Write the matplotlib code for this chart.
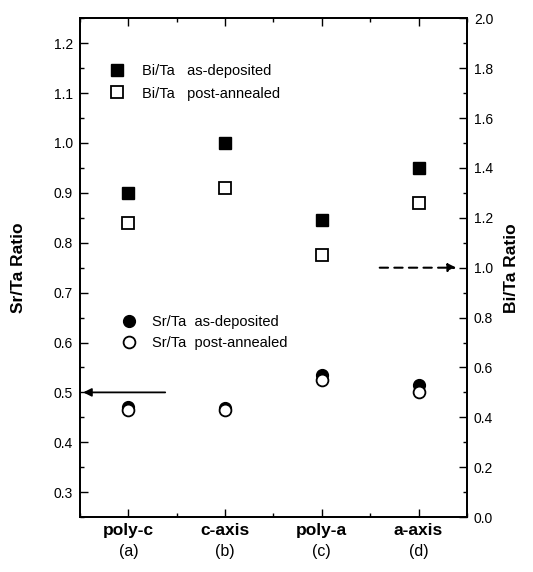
import matplotlib.pyplot as plt
from matplotlib.ticker import MultipleLocator, FormatStrFormatter

plt.rcParams['font.family'] = ['Liberation Sans', 'DejaVu Sans']

# data
samples = ['poly-c', 'c-axis', 'poly-a', 'a-axis']
sub_labels = ['(a)', '(b)', '(c)', '(d)']
x = [1, 2, 3, 4]

bi_ta_dep = [1.30, 1.50, 1.19, 1.40]
bi_ta_ann = [1.18, 1.32, 1.05, 1.26]
sr_ta_dep = [0.470, 0.468, 0.535, 0.515]
sr_ta_ann = [0.465, 0.465, 0.525, 0.500]

fig = plt.figure(figsize=(5.33, 5.72), dpi=100)
ax = fig.add_axes([0.150, 0.096, 0.726, 0.872])
ax2 = ax.twinx()

# Sr/Ta on left axis
l3, = ax.plot(x, sr_ta_dep, 'o', color='black', ms=8.5, ls='none')
l4, = ax.plot(x, sr_ta_ann, 'o', mfc='white', mec='black', mew=1.3, ms=8.5, ls='none')

# Bi/Ta on right axis
l1, = ax2.plot(x, bi_ta_dep, 's', color='black', ms=9, ls='none')
l2, = ax2.plot(x, bi_ta_ann, 's', mfc='white', mec='black', mew=1.3, ms=9, ls='none')

ax.set_xlim(0.5, 4.5)
ax.set_ylim(0.25, 1.25)
ax2.set_ylim(0.0, 2.0)

ax.yaxis.set_major_locator(MultipleLocator(0.1))
ax.yaxis.set_minor_locator(MultipleLocator(0.05))
ax.yaxis.set_major_formatter(FormatStrFormatter('%.1f'))
ax2.yaxis.set_major_locator(MultipleLocator(0.2))
ax2.yaxis.set_minor_locator(MultipleLocator(0.1))
ax2.yaxis.set_major_formatter(FormatStrFormatter('%.1f'))

ax.set_xticks(x)
ax.set_xticklabels([])
ax.xaxis.set_minor_locator(MultipleLocator(0.5))
ax.tick_params(axis='x', which='both', direction='in', top=True, bottom=True)
ax.tick_params(axis='x', which='major', length=6, width=1)
ax.tick_params(axis='x', which='minor', length=3, width=1)
ax.tick_params(axis='y', which='major', direction='in', length=6, width=1,
               labelsize=10, pad=5, right=False)
ax.tick_params(axis='y', which='minor', direction='in', length=3, width=1, right=False)
ax2.tick_params(axis='y', which='major', direction='in', length=6, width=1,
                labelsize=10, pad=5)
ax2.tick_params(axis='y', which='minor', direction='in', length=3, width=1)

for a in (ax, ax2):
    for s in a.spines.values():
        s.set_linewidth(1.3)

for xi, name, sub in zip(x, samples, sub_labels):
    ax.text(xi, -0.012, name, transform=ax.get_xaxis_transform(), ha='center',
            va='top', fontsize=12.5, fontweight='bold')
    ax.text(xi, -0.053, sub, transform=ax.get_xaxis_transform(), ha='center',
            va='top', fontsize=11.5)

ax.set_ylabel('Sr/Ta Ratio', fontsize=12.5, fontweight='bold', labelpad=20)
ax2.set_ylabel('Bi/Ta Ratio', fontsize=12.5, fontweight='bold', labelpad=8)

leg1 = ax2.legend([l1, l2], ['Bi/Ta   as-deposited', 'Bi/Ta   post-annealed'],
                  loc='upper left', bbox_to_anchor=(0.025, 0.935), frameon=False,
                  fontsize=10.5, handletextpad=0.7, labelspacing=0.6)
ax2.add_artist(leg1)
ax2.legend([l3, l4], ['Sr/Ta  as-deposited', 'Sr/Ta  post-annealed'],
           loc='upper left', bbox_to_anchor=(0.055, 0.432), frameon=False,
           fontsize=10.5, handletextpad=0.6, labelspacing=0.5)

# arrows pointing at the axes
ax.annotate('', xy=(0.505, 0.5), xytext=(1.41, 0.5),
            arrowprops=dict(arrowstyle='-|>', color='black', lw=1.3,
                            mutation_scale=12))
ax2.annotate('', xy=(4.42, 1.0), xytext=(3.57, 1.0),
             arrowprops=dict(arrowstyle='-|>', color='black', lw=1.5,
                             ls=(0, (4, 3)), mutation_scale=12))

fig.savefig('out.png', dpi=100)
